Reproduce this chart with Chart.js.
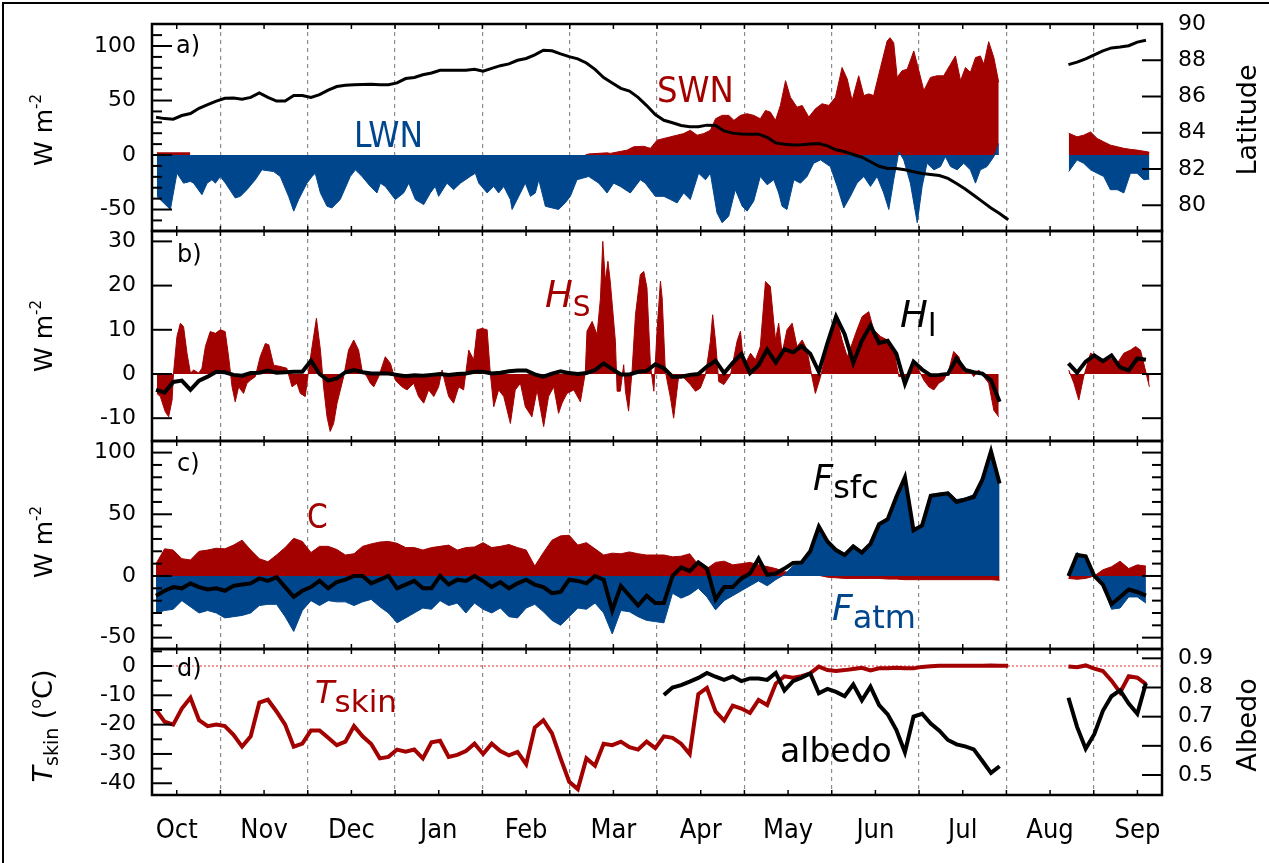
<!DOCTYPE html>
<html>
<head>
<meta charset="utf-8">
<title>Surface energy budget, Oct - Sep</title>
<script src="https://cdn.jsdelivr.net/npm/chart.js@4.4.1/dist/chart.umd.min.js"></script>
<style>
  html, body { margin: 0; padding: 0; background: #fff; }
  #fig { position: relative; width: 1269px; height: 863px; overflow: hidden; background: #fff; }
  #fig::before { content: ''; position: absolute; left: 2px; top: 2px; right: -10px; bottom: -10px; border: 2px solid #000; }
  #fig canvas { position: absolute; left: 0; }
</style>
</head>
<body>
<div id="fig">
  <canvas id="pa" width="1269" height="240" style="top:0px"></canvas>
  <canvas id="pb" width="1269" height="228" style="top:222px"></canvas>
  <canvas id="pc" width="1269" height="226" style="top:432px"></canvas>
  <canvas id="pd" width="1269" height="223" style="top:640px"></canvas>
</div>
<script>
// days since 1 Oct (months drawn as equal 30.44-day blocks); 314 is the data gap
const days = [
  8, 11, 14, 17, 20, 23, 26, 29, 32, 35,
  38, 41, 44, 47, 50, 53, 56, 59, 62, 65,
  68, 71, 74, 77, 80, 83, 86, 89, 92, 95,
  98, 101, 104, 107, 110, 113, 116, 119, 122, 125,
  128, 131, 134, 137, 140, 143, 146, 149, 152, 155,
  158, 161, 164, 167, 170, 173, 176, 179, 182, 185,
  188, 191, 194, 197, 200, 203, 206, 209, 212, 215,
  218, 221, 224, 227, 230, 233, 236, 239, 242, 245,
  248, 251, 254, 257, 260, 263, 266, 269, 272, 275,
  278, 281, 284, 287, 290, 293, 296, 299, 302, 305,
  314,
  326, 329, 332, 335, 338, 341, 344, 347, 350, 353
];
const monthLabels = ['Oct', 'Nov', 'Dec', 'Jan', 'Feb', 'Mar', 'Apr', 'May', 'Jun', 'Jul', 'Aug', 'Sep'];

// a) net longwave (W m-2), read at its own days
const lwnDays = [
  8.3, 13.0, 15.3, 17.6, 20.0, 21.1, 24.0, 25.8, 27.5, 28.7,
  30.4, 32.2, 35.6, 37.4, 39.7, 42.6, 44.9, 49.0, 51.3, 54.2,
  56.0, 57.7, 60.6, 62.4, 63.5, 65.3, 67.6, 69.3, 72.2, 75.7,
  77.5, 79.8, 82.7, 85.0, 86.2, 87.9, 91.4, 94.3, 96.1, 98.4,
  101.3, 103.6, 105.3, 106.5, 109.4, 111.7, 114.1, 117.5, 119.3, 120.5,
  123.4, 125.7, 127.4, 129.2, 131.5, 132.1, 135.0, 136.7, 138.5, 140.2,
  141.4, 143.7, 148.3, 150.6, 152.4, 154.7, 158.8, 162.3, 165.2, 167.5,
  169.8, 173.3, 176.8, 178.5, 182.0, 185.0, 187.3, 189.6, 191.9, 194.2,
  197.1, 199.5, 201.2, 203.5, 205.3, 207.6, 209.9, 212.3, 214.0, 216.3,
  218.6, 221.0, 223.3, 225.0, 226.2, 227.9, 230.3, 232.6, 234.9, 237.2,
  239.6, 243.0, 245.4, 247.7, 250.0, 252.3, 254.7, 257.0, 259.3, 261.6,
  263.4, 265.1, 266.9, 268.6, 270.9, 273.3, 275.0, 276.7, 279.1, 281.4,
  283.1, 284.9, 287.2, 289.5, 291.8, 293.6, 295.3, 297.6, 300.0, 301.7,
  314,
  326.1, 329.0, 331.3, 333.7, 336.0, 338.3, 340.6, 343.0, 345.3, 347.6,
  349.9, 352.3, 354.2
];
const lwn = [
  -37.9, -50, -16.7, -25.8, -24.2, -25.8, -36.4, -25.8, -22.7, -25.8,
  -19.7, -25.8, -39.4, -37.9, -31.8, -22.7, -13.6, -15.2, -19.7, -37.9,
  -51.5, -40.9, -25.8, -19.7, -16.7, -34.8, -47, -48.5, -40.9, -19.7,
  -13.6, -19.7, -28.8, -34.8, -25.8, -28.8, -40.9, -34.8, -25.8, -40.9,
  -45.5, -34.8, -28.8, -37.9, -25.8, -31.8, -25.8, -19.7, -16.7, -25.8,
  -34.8, -28.8, -34.8, -28.8, -40.9, -50, -34.8, -25.8, -37.9, -34.8,
  -22.7, -47, -50, -43.9, -37.9, -22.7, -19.7, -25.8, -34.8, -25.8,
  -28.8, -34.8, -22.7, -25.8, -37.9, -37.9, -40.9, -43.9, -34.8, -40.9,
  -16.7, -22.7, -16.7, -53, -62.1, -56.1, -31.8, -47, -51.5, -42.4,
  -19.7, -27.3, -22.7, -34.8, -47, -50, -22.7, -25.8, -19.7, -7.6,
  -4.5, -10.6, -28.8, -48.5, -37.9, -25.8, -19.7, -28.8, -19.7, -34.8,
  -50, -22.7, 3, -4.5, -25.8, -62.1, -28.8, -7.6, -13.6, -10.6,
  -1.5, -10.6, -13.6, -7.6, -13.6, -25.8, -13.6, -10.6, -1.5, 10.6,
  null,
  -15.2, -4.5, -7.6, -13.6, -16.7, -19.7, -31.8, -31.8, -34.8, -16.7,
  -16.7, -22.7, -22
];
// a) net shortwave (W m-2), read at its own days
const swnDays = [
  8.3, 19.9, 21,
  157.6, 158.8, 165.2, 166.3, 172.2, 174.5, 178.0,
  180.3, 182.6, 185.0, 187.3, 189.6, 191.9, 194.2, 196.6, 198.9, 201.2,
  203.0, 205.3, 207.6, 209.4, 211.7, 214.0, 216.3, 218.6, 220.4, 222.1,
  223.9, 225.6, 227.4, 229.1, 231.4, 233.2, 235.5, 237.8, 240.1, 242.5,
  244.8, 247.1, 248.9, 250.6, 252.9, 254.7, 256.4, 258.1, 260.5, 262.8,
  263.8, 265.1, 266.3, 268.0, 269.8, 272.1, 273.3, 275.6, 277.9, 280.2,
  282.5, 284.9, 286.6, 288.4, 290.1, 291.8, 293.6, 295.3, 296.5, 298.2,
  300.0, 301.7,
  314,
  326.1, 329.0, 331.3, 333.7, 336.0, 338.3, 340.6, 343.0, 345.3, 347.6,
  349.9, 353.4, 354.2
];
const swn = [
  2, 2, null,
  0, 1, 2, 1.5, 4.5, 7.6, 8,
  6.1, 13.6, 15.2, 16.7, 18.2, 19.7, 22.7, 18.2, 19.7, 22.7,
  33.3, 36.4, 36.4, 31.8, 36.4, 37.9, 36.4, 33.3, 40.9, 39.4,
  31.8, 45.5, 68.2, 53, 43.9, 45.5, 34.8, 42.4, 47, 45.5,
  53, 80.3, 69.7, 50, 72.7, 54.5, 56.1, 54.5, 80.3, 104.5,
  107.6, 103, 71.2, 77.3, 78.8, 95.5, 83.3, 59.1, 71.2, 72.7,
  72.7, 83.3, 90.9, 68.2, 80.3, 75.8, 89.4, 90.9, 83.3, 104,
  89.4, 66.7,
  null,
  20, 16.7, 18.2, 21.2, 15.2, 12.1, 9.1, 7.6, 6.1, 5.2,
  4.5, 3, 2.5
];
// a) ship latitude (deg N)
const latitude = [
  84.85, 84.78, 84.75, 84.95, 85.06, 85.35, 85.55, 85.75, 85.9, 85.92,
  85.85, 85.95, 86.2, 85.95, 85.75, 85.75, 86.05, 86.05, 85.95, 86.1,
  86.35, 86.55, 86.62, 86.65, 86.66, 86.68, 86.65, 86.65, 86.75, 86.99,
  87.05, 87.2, 87.3, 87.45, 87.45, 87.45, 87.45, 87.5, 87.4, 87.55,
  87.7, 87.8, 88.0, 88.1, 88.3, 88.55, 88.52, 88.35, 88.2, 88.08,
  87.85, 87.5, 87.05, 86.75, 86.45, 86.3, 85.95, 85.5, 85.0, 84.69,
  84.55, 84.4, 84.33, 84.33, 84.42, 84.4, 84.1, 83.98, 83.93, 83.92,
  83.92, 83.74, 83.44, 83.37, 83.32, 83.34, 83.38, 83.4, 83.28, 83.06,
  82.95, 82.8, 82.65, 82.4, 82.15, 82.03, 82.03, 81.96, 81.85, 81.75,
  81.7, 81.64, 81.48, 81.2, 80.9, 80.55, 80.2, 79.85, 79.55, 79.2,
  null,
  87.76, 87.9, 88.08, 88.3, 88.52, 88.68, 88.73, 88.8, 89.0, 89.1
];

// b) sensible heat flux, read at its own (irregular) days because of its narrow spikes
const hsDays = [
  8.3, 9.5, 11.2, 12.4, 13.6, 14.1, 15.3, 16.5, 17.6, 18.8,
  20.0, 21.1, 22.9, 24.0, 25.2, 26.9, 28.7, 30.4, 32.1, 33.3,
  34.5, 35.6, 36.8, 38.5, 39.7, 40.9, 42.6, 44.3, 46.1, 47.3,
  49.0, 51.3, 53.6, 55.4, 57.1, 58.3, 60.0, 61.2, 62.4, 63.9,
  65.3, 66.4, 67.6, 68.7, 69.9, 71.1, 73.4, 75.1, 76.9, 78.6,
  79.8, 81.5, 82.7, 83.9, 85.6, 87.9, 89.7, 91.4, 93.7, 95.5,
  97.8, 99.5, 101.3, 103.0, 104.8, 106.5, 107.7, 108.8, 110.0, 111.7,
  113.5, 115.2, 117.0, 118.7, 119.9, 121.6, 123.4, 124.5, 125.7, 127.4,
  129.2, 131.5, 133.2, 135.0, 136.7, 139.0, 140.8, 143.1, 144.8, 146.6,
  148.3, 149.5, 151.2, 153.6, 155.9, 157.6, 158.2, 160.0, 161.7, 162.9,
  163.7, 164.6, 165.5, 166.3, 168.1, 168.7, 169.8, 171.0, 171.6, 172.7,
  173.9, 175.1, 176.8, 178.0, 179.1, 180.3, 181.5, 182.6, 183.8, 184.4,
  185.5, 187.3, 188.4, 190.2, 192.0, 194.2, 196.0, 197.7, 199.5, 201.2,
  202.0, 203.0, 204.1, 205.9, 208.2, 210.5, 211.7, 212.3, 213.4, 215.2,
  216.9, 218.6, 220.4, 222.1, 223.9, 225.0, 226.2, 227.9, 229.7, 231.4,
  233.2, 234.9, 236.6, 237.8, 239.6, 240.7, 241.9, 243.6, 245.4, 247.1,
  248.9, 250.6, 252.3, 254.1, 256.4, 258.1, 260.5, 262.8, 265.1, 266.9,
  268.6, 270.3, 272.1, 273.8, 275.6, 277.3, 279.1, 280.8, 282.5, 284.3,
  286.0, 287.8, 289.5, 291.3, 293.0, 294.7, 296.5, 298.2, 300.0, 301.7,
  314,
  326.1, 327.9, 329.6, 331.3, 333.7, 336.0, 338.3, 340.6, 343.0, 345.3,
  347.6, 349.4, 351.1, 352.8, 354.2
];
const hs = [
  -4.4, -5.1, -8.5, -9.7, -5.9, 0.2, 8.5, 11.5, 10.7, 4.7,
  0.2, 0.9, 0.2, 1.3, 6.2, 9.6, 9.2, 10, 9.6, 3.9,
  -2.9, -6.3, -2.9, -4.4, -2.1, -1.4, -0.6, 3.9, 6.9, 6.6,
  2, 1.7, 1.3, -2.9, -2.1, -4.4, -5.1, 0.9, 6.2, 12.6,
  5.4, -2.9, -9.7, -13, -11.2, -6.6, -0.6, 5.4, 7.7, 5.4,
  0.9, -0.6, -2.1, -2.9, -0.6, 3.9, 2.4, -1.4, -2.9, -3.6,
  -2.1, -5.1, -6.6, -3.6, -5.1, -2.9, 0.9, -2.1, -5.1, -6.6,
  -2.9, -3.6, 5.4, 3.2, 10, 10.3, 10, 0.2, -7.4, -3.6,
  -5.1, -11.2, -3.6, -2.1, -7.4, -9.7, -3.6, -11.9, -5.1, -2.9,
  -8.9, -6.6, -4.4, -3.6, -6.3, 0.2, 9.7, 11.9, 8.9, 17.2,
  30, 21, 25.5, 21, 7.4, -3.9, -3.9, 2.1, -3.9, -8.4,
  0.6, 13.4, 22.5, 23.2, 19.5, 2.1, -3.9, 9.7, 21, 17.2,
  0.6, -5.4, -10, -0.2, -0.9, -2.4, -3.9, -3.2, -0.2, 7.4,
  13.4, 7.4, -1.7, -2.4, -0.2, 7.4, 9.7, 5.4, 2.4, 4.7,
  3.2, 6.2, 20.9, 19.8, 7.7, 11.5, 4.7, 10, 11.5, 6.2,
  7.7, 5.4, -0.6, -4.4, -0.6, 2.4, 6.9, 10, 12.2, 7.7,
  3.9, 6.9, 10, 13, 14.1, 10, 8.5, 7.7, 5.4, -0.6,
  -0.6, -0.6, 2.4, 0.9, -1.4, -2.9, -3.6, -2.1, -1.4, 0.9,
  5.1, 3.9, 0.2, 0.9, -0.6, 0.9, -0.6, -2.1, -8.2, -9.7,
  null,
  0.9, -2.1, -5.9, -0.6, 4.7, 3.9, 3.2, 3.5, 2.4, 4.7,
  5.4, 6.2, 5.4, 0.9, -2.9
];
// b) latent heat flux (W m-2)
const hl = [
  -3.6, -4.2, -1.8, -1.5, -3.6, -1.5, -0.6, 0.5, 0.4, -0.2,
  -0.4, 0.2, 0.3, 0.8, 0.3, 0.4, 0.5, 0.5, 3, 0,
  -1.5, -1, 0.4, 0.9, 0.4, 0.1, 0.1, 0.1, -0.2, -0.5,
  -0.3, -0.4, -0.2, 0, -0.2, 0, 0.1, 0.5, 0.5, 0.1,
  0.3, 0.6, 0.8, 0.8, -0.1, -0.6, 0.1, 0.6, 0.2, 0,
  0.2, 0.9, 2.4, 1.1, -0.1, -0.1, 0.5, 0.7, 2.2, 1.3,
  -0.6, -0.6, -0.2, 0, 1.7, 3, 0.2, 2.5, 4.5, 0.2,
  2, 5.5, 2.6, 5.6, 4.9, 6.3, 4.6, 0.5, 7, 13,
  9, 2.5, 7.5, 11, 7, 7.5, 4.6, -2.2, 2.8, 1,
  -0.3, -0.2, 0, 3.5, 0.9, 0.4, 0.1, -1.4, -6.3, null,
  null,
  2.4, 0.3, 2.8, 4.2, 2.9, 4.2, 1.5, 0.8, 3.5, 3.2
];

// c) conductive flux, atmospheric and surface net flux (W m-2)
const cond = [
  10, 22, 21, 14, 13, 20, 21, 22.5, 22, 25,
  29, 21, 14, 11.5, 17, 23, 30.5, 28, 19, 24,
  24, 21.5, 17, 18, 24, 26, 27.5, 28, 26.5, 23,
  23, 21, 23, 24, 25, 21, 23, 23.5, 27, 23,
  24, 25.5, 23, 21, 8, 19, 29, 32.5, 33, 25,
  27, 22, 17, 18.5, 18, 19.5, 18, 17, 17, 17,
  15.5, 16, 18, 9, 6, 11, 12, 9, 10, 11,
  9, 7.6, 6, 3.5, 2.5, 2, 1, 0.5, -1, -1.5,
  -2, -2, -2, -2, -2, -2.5, -2.5, -3, -3, -3,
  -3, -3, -3, -3, -3, -3, -3, -3, -3.5, null,
  null,
  -2, -2.7, -2, 0, 5, 7.5, 12, 6, 9, 8
];
const fatm = [
  -30, -28, -27, -20, -25, -30, -28, -30, -34, -33,
  -32, -30, -24, -23, -23, -33, -45, -28, -20, -24,
  -20, -21, -21, -24, -21, -19, -25, -30, -38, -34,
  -30, -26, -27, -20, -24, -22, -30, -22, -27, -30,
  -26, -33, -34, -26, -23, -29, -36, -40, -33, -26,
  -27, -22, -30, -47, -28, -29, -33, -36, -37, -38,
  -14, -18, -15, -10, -17, -27.5, -20, -16, -12, -8,
  -4, -8, -3, 1, 8, 12, 21, 41, 29, 22,
  18, 25, 20, 27, 43, 47, 65, 81, 38, 42,
  66, 67, 68, 62, 63, 66, 79, 102, 78, null,
  null,
  0, 19, 14, 0, -8, -27, -26, -17, -17, -22
];
const fsfc = [
  -16, -12, -9, -10, -6, -9, -11, -10, -12, -8,
  -7, -6, -2, -4, -1, -9, -17, -12, -9, -4,
  -10, -5, -3, 0, 0, -6, -3, 0, -10, -7,
  -4, -10, -10, 0, -7, -3, -4, 0, -4, -9,
  -5, -10, -6, -3, -7, -9, -14, -13, -3, -4,
  -6, 0, -3, -28, -8, -16, -24, -16, -22, -22,
  0, 7, 4, 11, 6, -19, -9, -9, -2, 2,
  14, 1, 2, 6, 10.5, 11, 20, 40, 28, 21,
  17, 24, 19, 26, 42, 46, 64, 80, 37, 41,
  65, 66, 67, 60, 62, 64, 78, 101, 75, null,
  null,
  0, 17, 16, 0, -7, -23, -17, -11, -13, -16
];

// d) skin temperature (deg C) and albedo
const tskin = [
  -15, -19, -20, -14.5, -10.8, -18.5, -20.5, -20, -20.5, -23.5,
  -27.5, -24, -12.5, -11.5, -15.5, -20, -27.5, -26.5, -22, -22,
  -24.5, -27, -25.8, -20.5, -24, -26.6, -31.5, -31, -28.5, -29.2,
  -28.5, -31.5, -26, -25.5, -31, -30.3, -29, -26.5, -30, -26.5,
  -29, -30.5, -29.3, -33.5, -21, -18.5, -23, -31.5, -39.5, -42,
  -31.5, -34, -26.5, -27, -25.8, -27.7, -28.5, -25.8, -28, -24,
  -24.5, -26.5, -30, -9.6, -7.5, -15.5, -18.6, -13.5, -14.5, -16,
  -11.6, -13.3, -6, -3.5, -4, -3.5, -2.5, -0.2, -1.4, -1.7,
  -1.4, -1, -0.6, -1.5, -0.8, -0.8, -0.6, -0.8, -0.8, -0.3,
  -0.1, 0.1, 0.1, 0.1, 0.1, 0.1, 0.1, 0.2, 0.1, 0.1,
  null,
  -0.2, -0.4, 0.2, -0.9, -1.7, -5, -9, -3.5, -4, -6.2
];
const albedo = [
  null, null, null, null, null, null, null, null, null, null,
  null, null, null, null, null, null, null, null, null, null,
  null, null, null, null, null, null, null, null, null, null,
  null, null, null, null, null, null, null, null, null, null,
  null, null, null, null, null, null, null, null, null, null,
  null, null, null, null, null, null, null, null, null, 0.774,
  0.80, 0.808, 0.82, 0.833, 0.85, 0.837, 0.826, 0.838, 0.822, 0.831,
  0.831, 0.826, 0.85, 0.79, 0.822, 0.834, 0.848, 0.78, 0.795, 0.785,
  0.77, 0.81, 0.756, 0.803, 0.74, 0.708, 0.655, 0.578, 0.70, 0.71,
  0.676, 0.652, 0.62, 0.605, 0.598, 0.588, 0.548, 0.507, 0.53, null,
  null,
  0.765, 0.665, 0.59, 0.64, 0.72, 0.77, 0.79, 0.745, 0.71, 0.815
];

// axis ticks (all ticks get an inner tick mark, labelled ones are longer)
const aTicks = [-60, -50, -40, -30, -20, -10, 0, 10, 20, 30, 40, 50, 60, 70, 80, 90, 100, 110];
const aLabels = [-50, 0, 50, 100];
const latTicks = [80, 82, 84, 86, 88, 90];
const bTicks = [-10, 0, 10, 20, 30];
const cTicks = [-50, -40, -30, -20, -10, 0, 10, 20, 30, 40, 50, 60, 70, 80, 90, 100];
const cLabels = [-50, 0, 50, 100];
const dTicks = [-40, -35, -30, -25, -20, -15, -10, -5, 0, 5];
const dLabels = [-40, -30, -20, -10, 0];
const albTicks = [0.5, 0.6, 0.7, 0.8, 0.9];

const BLUE = '#00468c';
const RED = '#a30000';
const SANS = "'DejaVu Sans', sans-serif";
const COND = "'DejaVu Sans Condensed', 'DejaVu Sans', sans-serif";
const MONTH = 365.25 / 12;
const X_MIN = 6.6, X_MAX = 358.6;
const LEFT_W = 152, RIGHT_W = 107;

const pairs = (xs, ys) => xs.map((d, i) => ({ x: d, y: ys[i] }));
const pts = ys => pairs(days, ys);

const framePlugin = {
    id: 'frame',
    beforeDatasetsDraw(chart, args, o) {
        if (!o.zeroLine) return;
        const { ctx, chartArea: a, scales } = chart;
        const y0 = scales.y.getPixelForValue(0);
        ctx.save();
        ctx.strokeStyle = '#e03030';
        ctx.lineWidth = 1;
        ctx.setLineDash([2, 2]);
        ctx.beginPath();
        ctx.moveTo(a.left, y0);
        ctx.lineTo(a.right, y0);
        ctx.stroke();
        ctx.restore();
    },
    afterDraw(chart, args, o) {
        const { ctx, chartArea: a, scales } = chart;
        const seg = (x1, y1, x2, y2) => {
            ctx.beginPath();
            ctx.moveTo(x1, y1);
            ctx.lineTo(x2, y2);
            ctx.stroke();
        };
        ctx.save();
        ctx.strokeStyle = '#000';
        ctx.lineWidth = 1.5;
        scales.x.ticks.forEach(t => {
            const px = scales.x.getPixelForValue(t.value);
            seg(px, a.top, px, a.top + 5);
            seg(px, a.bottom, px, a.bottom - 5);
        });
        ctx.lineWidth = 2;
        scales.y.ticks.forEach(t => {
            const py = scales.y.getPixelForValue(t.value);
            const len = t.major ? 20 : 10;
            seg(a.left, py, a.left + len, py);
            if (o.mirror) seg(a.right, py, a.right - len, py);
        });
        if (scales.y2) {
            scales.y2.ticks.forEach(t => {
                const py = scales.y2.getPixelForValue(t.value);
                seg(a.right, py, a.right - 20, py);
            });
        }
        ctx.lineWidth = 2.5;
        ctx.strokeRect(a.left, a.top, a.right - a.left, a.bottom - a.top);
        ctx.restore();
    }
};

// text labels drawn at page coordinates (baseline), optional rotation for axis titles
const notesPlugin = {
    id: 'notes',
    afterDraw(chart, args, o) {
        const ctx = chart.ctx;
        (o.items || []).forEach(n => {
            ctx.save();
            ctx.fillStyle = n.color || '#000';
            ctx.textBaseline = 'alphabetic';
            ctx.translate(n.x, n.y - o.top);
            if (n.rotate) ctx.rotate(-Math.PI / 2);
            const fontOf = p => `${p.italic ? 'italic ' : ''}${p.size}px ${p.family || SANS}`;
            let total = 0;
            n.parts.forEach(p => { ctx.font = fontOf(p); total += ctx.measureText(p.t).width; });
            let cx = n.center ? -total / 2 : 0;
            n.parts.forEach(p => {
                ctx.font = fontOf(p);
                ctx.fillText(p.t, cx, p.dy || 0);
                cx += ctx.measureText(p.t).width;
            });
            ctx.restore();
        });
    }
};

Chart.register(framePlugin, notesPlugin);

function xAxis(showLabels) {
    return {
        type: 'linear',
        min: X_MIN,
        max: X_MAX,
        afterBuildTicks: s => {
            const t = [];
            for (let k = 1; k <= 23; k++) t.push({ value: k * MONTH / 2, major: k % 2 === 0 });
            s.ticks = t;
        },
        afterFit: s => {
            s.height = showLabels ? 68 : 0;
            s.paddingLeft = 0;
            s.paddingRight = 0;
        },
        grid: {
            drawTicks: false,
            lineWidth: 1.2,
            color: c => (c.index % 2 === 1 ? '#8c8c8c' : 'rgba(0,0,0,0)')
        },
        border: { display: false, dash: [4, 4] },
        ticks: {
            display: showLabels,
            autoSkip: false,
            maxRotation: 0,
            padding: 20,
            color: '#000',
            font: { family: COND, size: 27 },
            callback: (v, i) => (i % 2 === 0 ? monthLabels[i / 2] : '')
        }
    };
}

function yAxis(pos, min, max, ticks, labels, width, fmt) {
    return {
        type: 'linear',
        position: pos,
        min,
        max,
        afterBuildTicks: s => { s.ticks = ticks.map(v => ({ value: v, major: labels.includes(v) })); },
        afterFit: s => {
            s.width = width;
            s.paddingTop = 0;
            s.paddingBottom = 0;
        },
        grid: { display: false, drawTicks: false },
        border: { display: false },
        ticks: {
            autoSkip: false,
            padding: 16,
            color: '#000',
            font: { family: SANS, size: 22 },
            callback: v => (labels.includes(v) ? (fmt ? fmt(v) : String(v)) : '')
        }
    };
}

function options(padding, scales, frame, notes) {
    return {
        responsive: false,
        animation: false,
        events: [],
        layout: { padding },
        elements: { point: { radius: 0 }, line: { tension: 0 } },
        plugins: {
            legend: { display: false },
            tooltip: { enabled: false },
            frame,
            notes
        },
        scales
    };
}

const wm2 = cy => ({
    rotate: true, center: true, x: 52, y: cy,
    parts: [{ t: 'W m', size: 25 }, { t: '-2', size: 15, dy: -11 }]
});

// a)
new Chart(document.getElementById('pa'), {
    type: 'line',
    data: {
        datasets: [
            { label: 'Latitude', data: pts(latitude), yAxisID: 'y2', borderColor: '#000', borderWidth: 3, fill: false, order: 0 },
            { label: 'LWN', data: pairs(lwnDays, lwn), yAxisID: 'y', borderColor: BLUE, backgroundColor: BLUE, borderWidth: 1, fill: 'origin', order: 1 },
            { label: 'SWN', data: pairs(swnDays, swn), yAxisID: 'y', borderColor: RED, backgroundColor: RED, borderWidth: 1, fill: 'origin', order: 2 }
        ]
    },
    options: options(
        { top: 24, bottom: 9, left: 0, right: 0 },
        {
            x: xAxis(false),
            y: yAxis('left', -69.7, 120.2, aTicks, aLabels, LEFT_W),
            y2: yAxis('right', 78.58, 90, latTicks, latTicks, RIGHT_W)
        },
        { mirror: false },
        {
            top: 0,
            items: [
                { x: 176, y: 53, parts: [{ t: 'a)', size: 24 }] },
                { x: 354, y: 147, color: BLUE, parts: [{ t: 'LWN', size: 35, family: COND }] },
                { x: 657, y: 102, color: RED, parts: [{ t: 'SWN', size: 36, family: COND }] },
                wm2(130),
                { rotate: true, center: true, x: 1256, y: 120, parts: [{ t: 'Latitude', size: 27 }] }
            ]
        }
    )
});

// b)
new Chart(document.getElementById('pb'), {
    type: 'line',
    data: {
        datasets: [
            { label: 'Hl', data: pts(hl), borderColor: '#000', borderWidth: 4, fill: false, order: 0 },
            { label: 'Hs', data: pairs(hsDays, hs), borderColor: RED, backgroundColor: RED, borderWidth: 1, fill: 'origin', order: 1 }
        ]
    },
    options: options(
        { top: 9, bottom: 9, left: 0, right: RIGHT_W },
        {
            x: xAxis(false),
            y: yAxis('left', -15.16, 32.35, bTicks, bTicks, LEFT_W)
        },
        { mirror: true },
        {
            top: 222,
            items: [
                { x: 177, y: 262, parts: [{ t: 'b)', size: 24 }] },
                { x: 545, y: 307, color: RED, parts: [{ t: 'H', size: 37, italic: true }, { t: 'S', size: 28, dy: 9 }] },
                { x: 900, y: 327, parts: [{ t: 'H', size: 37, italic: true }, { t: 'l', size: 32, dy: 9 }] },
                wm2(336)
            ]
        }
    )
});

// c)
new Chart(document.getElementById('pc'), {
    type: 'line',
    data: {
        datasets: [
            { label: 'Fsfc', data: pts(fsfc), borderColor: '#000', borderWidth: 4, fill: false, order: 0 },
            { label: 'Fatm', data: pts(fatm), borderColor: BLUE, backgroundColor: BLUE, borderWidth: 1, fill: 'origin', order: 1 },
            { label: 'C', data: pts(cond), borderColor: RED, backgroundColor: RED, borderWidth: 1, fill: 'origin', order: 2 }
        ]
    },
    options: options(
        { top: 9, bottom: 9, left: 0, right: RIGHT_W },
        {
            x: xAxis(false),
            y: yAxis('left', -59.2, 109.4, cTicks, cLabels, LEFT_W)
        },
        { mirror: true },
        {
            top: 432,
            items: [
                { x: 177, y: 471, parts: [{ t: 'c)', size: 24 }] },
                { x: 307, y: 528, color: RED, parts: [{ t: 'C', size: 33, family: COND }] },
                { x: 813, y: 490, parts: [{ t: 'F', size: 35, italic: true }, { t: 'sfc', size: 32, dy: 8 }] },
                { x: 832, y: 620, color: BLUE, parts: [{ t: 'F', size: 36, italic: true }, { t: 'atm', size: 32, dy: 8 }] },
                wm2(542)
            ]
        }
    )
});

// d)
new Chart(document.getElementById('pd'), {
    type: 'line',
    data: {
        datasets: [
            { label: 'albedo', data: pts(albedo), yAxisID: 'y2', borderColor: '#000', borderWidth: 4, fill: false, order: 0 },
            { label: 'Tskin', data: pts(tskin), yAxisID: 'y', borderColor: RED, borderWidth: 4, fill: false, order: 1 }
        ]
    },
    options: options(
        { top: 9, bottom: 0, left: 0, right: 0 },
        {
            x: xAxis(true),
            y: yAxis('left', -44, 5.8, dTicks, dLabels, LEFT_W),
            y2: yAxis('right', 0.4314, 0.932, albTicks, albTicks, RIGHT_W, v => v.toFixed(1))
        },
        { mirror: false, zeroLine: true },
        {
            top: 640,
            items: [
                { x: 177, y: 676, parts: [{ t: 'd)', size: 24 }] },
                { x: 315, y: 703, color: RED, parts: [{ t: 'T', size: 32, italic: true }, { t: 'skin', size: 31, dy: 9 }] },
                { x: 780, y: 762, parts: [{ t: 'albedo', size: 33 }] },
                {
                    rotate: true, center: true, x: 52, y: 726,
                    parts: [
                        { t: 'T', size: 27, italic: true },
                        { t: 'skin', size: 19, dy: 6 },
                        { t: ' (', size: 27 },
                        { t: 'o', size: 16, dy: -11 },
                        { t: 'C)', size: 27 }
                    ]
                },
                { rotate: true, center: true, x: 1256, y: 725, parts: [{ t: 'Albedo', size: 27 }] }
            ]
        }
    )
});
</script>
</body>
</html>
